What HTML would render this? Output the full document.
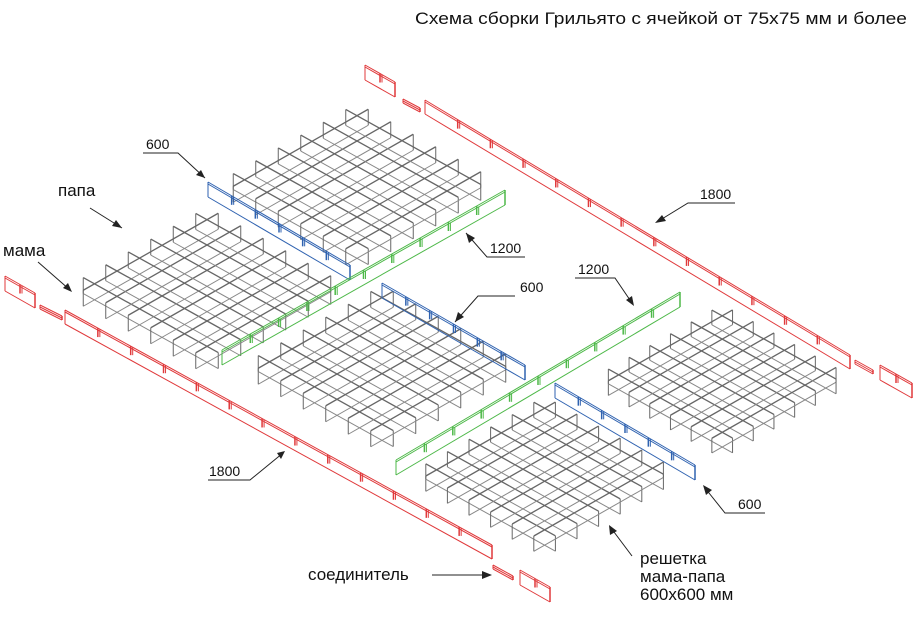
<!DOCTYPE html>
<html><head><meta charset="utf-8"><style>
html,body{margin:0;padding:0;background:#fff;}
svg{display:block;}
text{font-family:"Liberation Sans","DejaVu Sans",sans-serif;fill:#111;}
</style></head><body>
<svg id="s" width="917" height="639" viewBox="0 0 917 639" xmlns="http://www.w3.org/2000/svg">
<g id="g"></g>
<g fill="none" stroke="#222" stroke-width="1">
<path d="M143 153 H178 L205 178"/>
<path d="M90 208 L122 228"/>
<path d="M38 262 L70 290"/>
<path d="M525 257 H487 L466 233"/>
<path d="M515 296 H478 L455 322"/>
<path d="M575 278 H615 L632 303"/>
<path d="M735 203 H688 L657 222"/>
<path d="M208 480 H250 L283 453"/>
<path d="M765 513 H725 L705 488"/>
<path d="M432 575 H490"/>
<path d="M632 556 L611 528"/>
</g>
<g fill="#222">
<polygon points="205,178 196,175 201,170"/>
<polygon points="122,228 112,226 116,220"/>
<polygon points="72,292 63,288 68,283"/>
<polygon points="466,233 469,243 475,238"/>
<polygon points="455,322 458,312 464,317"/>
<polygon points="634,306 626,300 632,296"/>
<polygon points="655,223 662,215 666,221"/>
<polygon points="285,451 277,453 281,459"/>
<polygon points="703,485 706,495 712,490"/>
<polygon points="492,575 482,571 482,579"/>
<polygon points="609,525 610,535 617,531"/>
</g>
<text x="415" y="24" font-size="17" textLength="492" lengthAdjust="spacingAndGlyphs">Схема сборки Грильято с ячейкой от 75х75 мм и более</text>
<text x="146" y="149" font-size="14">600</text>
<text x="58" y="196" font-size="17">папа</text>
<text x="3" y="256" font-size="17">мама</text>
<text x="490" y="253" font-size="14">1200</text>
<text x="520" y="292" font-size="14">600</text>
<text x="578" y="274" font-size="14">1200</text>
<text x="700" y="199" font-size="14">1800</text>
<text x="209" y="476" font-size="14">1800</text>
<text x="738" y="509" font-size="14">600</text>
<text x="308" y="580" font-size="17">соединитель</text>
<text x="640" y="564" font-size="17">решетка</text>
<text x="640" y="582" font-size="17">мама-папа</text>
<text x="640" y="600" font-size="17">600х600 мм</text>
</svg>
<script>
var g=document.getElementById('g'),NS='http://www.w3.org/2000/svg';
function ln(x1,y1,x2,y2,c,w){var e=document.createElementNS(NS,'line');e.setAttribute('x1',x1);e.setAttribute('y1',y1);e.setAttribute('x2',x2);e.setAttribute('y2',y2);e.setAttribute('stroke',c);e.setAttribute('stroke-width',w||1);g.appendChild(e);}
function panel(Lx,Ly,s){
 var ax=135*s,ay=75*s,bx=135*s,by=-77*s,h=16*s,c='#666',n=6;
 function P(u,v){return [Lx+u*ax+v*bx,Ly+u*ay+v*by];}
 for(var i=0;i<n;i++){var t=(i+0.5)/n;
  var p=P(t,0),q=P(t,1);
  ln(p[0],p[1],q[0],q[1],c,1.3);ln(p[0],p[1]+h,q[0],q[1]+h,'#888');ln(p[0],p[1],p[0],p[1]+h,c);ln(q[0],q[1],q[0],q[1]+h,c);
  p=P(0,t);q=P(1,t);
  ln(p[0],p[1],q[0],q[1],c,1.3);ln(p[0],p[1]+h,q[0],q[1]+h,'#888');ln(p[0],p[1],p[0],p[1]+h,c);ln(q[0],q[1],q[0],q[1]+h,c);
 }
}
function bar(x1,y1,x2,y2,h,c,n){
 ln(x1,y1,x2,y2,c,1);ln(x1,y1+2,x2,y2+2,c,1);ln(x1,y1+h,x2,y2+h,c,1);ln(x1,y1,x1,y1+h,c);ln(x2,y2,x2,y2+h,c,1.5);
 for(var i=1;i<=n;i++){var t=i/(n+1),x=x1+(x2-x1)*t,y=y1+(y2-y1)*t;ln(x,y,x,y+9,c,1.5);ln(x+2,y+1,x+2,y+9,c,1);}
}
panel(222,180,1);
panel(72,284,1);
panel(247,362,1);
panel(598,375,0.92);
panel(415,470,0.96);
var R='#e0393b',B='#2f62b0',G='#4db848';
bar(425,100,850,355,14,R,12);
bar(365,65,395,82,15,R,1);
bar(403,99,420,108,4,R,0);
bar(855,360,873,370,4,R,0);
bar(880,365,912,383,15,R,1);
bar(65,310,492,545,14,R,12);
bar(5,276,35,293,15,R,1);
bar(40,305,62,316,4,R,0);
bar(493,565,513,576,4,R,0);
bar(520,570,550,587,15,R,1);
bar(208,182,350,265,15,B,5);
bar(382,283,525,365,15,B,5);
bar(555,383,695,465,15,B,5);
bar(222,350,505,190,15,G,9);
bar(396,460,680,292,15,G,9);
</script>
</body></html>
